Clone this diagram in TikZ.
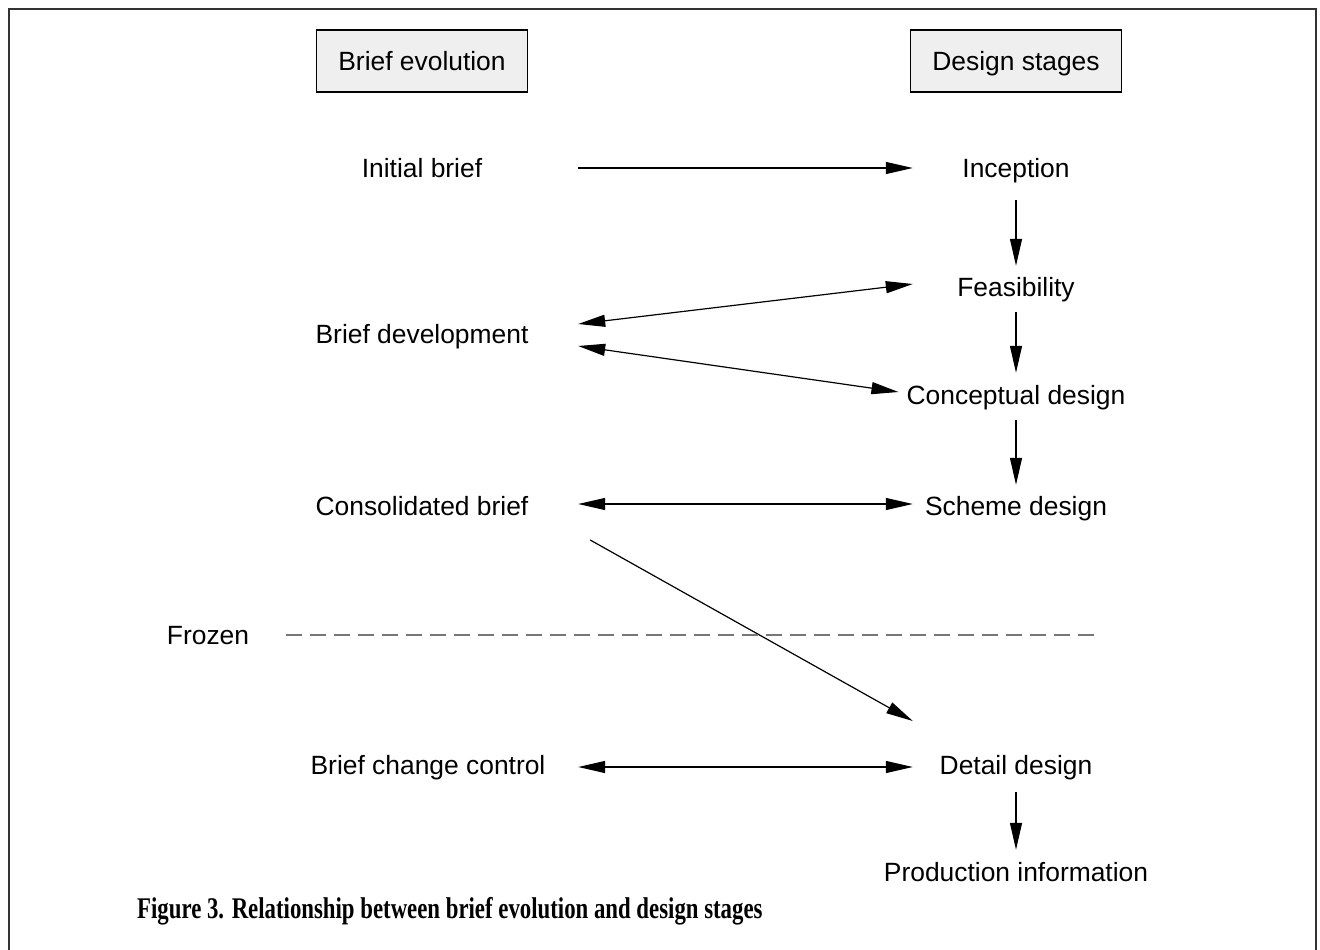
\documentclass[tikz,border=0pt]{standalone}
\usepackage{fontspec}
\setmainfont{Liberation Sans}
\newfontfamily\capfont{Liberation Serif}
\usetikzlibrary{arrows.meta, positioning, calc}
\definecolor{headfill}{HTML}{EFEFEF}
\definecolor{frameline}{HTML}{333333}
\definecolor{dashgray}{HTML}{777777}

\begin{document}
\begin{tikzpicture}[
  x=1pt, y=-1pt,
  >={Triangle[length=27pt, width=12pt]},
  headbox/.style={
    draw=black, line width=1.5pt, fill=headfill,
    minimum width=211pt, minimum height=62pt, inner sep=0pt,
    text height=19pt, text depth=0pt, font=\fontsize{26.4}{30}\selectfont
  },
  briefnode/.style={
    minimum width=312pt, minimum height=44pt, inner sep=0pt,
    text height=19pt, text depth=0pt, font=\fontsize{26.4}{30}\selectfont
  },
  stagenode/.style={
    minimum width=206pt, minimum height=44pt, inner sep=0pt,
    text height=19pt, text depth=0pt, font=\fontsize{26.4}{30}\selectfont
  },
  arr/.style={->, line width=1.2pt},
  dblarr/.style={<->, line width=1.2pt},
]

\useasboundingbox (0,0) rectangle (1320,950);

% Frame
\draw[frameline, line width=1.5pt] (9,950) -- (9,9) -- (1316,9) -- (1316,950);

% Column headers
\node[headbox] (briefhead) at (422,61) {Brief evolution};
\node[headbox] (stagehead) at (1016,61) {Design stages};

% =============================================
% Brief evolution column
% =============================================
\node[briefnode] (initial) at (422,168) {Initial brief};
\node[briefnode] (develop) at (422,334) {Brief development};
\node[briefnode] (consol)  at (422,506) {Consolidated brief};
\node[briefnode] (change)  at (428,765) {Brief change control};

% =============================================
% Design stages column
% =============================================
\node[stagenode] (inception) at (1016,168) {Inception};
\node[stagenode] (feasible)  at (1016,287) {Feasibility};
\node[stagenode] (concept)   at (1016,395) {Conceptual design};
\node[stagenode] (scheme)    at (1016,506) {Scheme design};
\node[stagenode] (detail)    at (1016,765) {Detail design};
\node[stagenode] (product)   at (1016,872) {Production information};

% Stage sequence
\draw[arr] ([yshift=-10pt]inception.south) -- ([yshift=-1pt]feasible.north);
\draw[arr] ([yshift=-3pt]feasible.south) -- (concept.north);
\draw[arr] ([yshift=-3pt]concept.south) -- ([yshift=-1pt]scheme.north);
\draw[arr] ([yshift=-5pt]detail.south) -- (product.north);

% Brief to stage links
\draw[arr] (initial.east) -- (inception.west);
\draw[dblarr] ([yshift=10pt]develop.east) -- ([yshift=3pt]feasible.west);
\draw[dblarr] ([yshift=-12pt]develop.east) -- ([xshift=-8pt,yshift=3pt]concept.west);
\draw[dblarr] ([yshift=2pt]consol.east) -- ([yshift=2pt]scheme.west);
\draw[arr] ([xshift=12pt,yshift=-34pt]consol.east) -- ([yshift=44pt]detail.west);
\draw[dblarr] ([xshift=-6pt,yshift=-2pt]change.east) -- ([yshift=-2pt]detail.west);

% Frozen line
\node[font=\fontsize{26.4}{30}\selectfont, inner sep=0pt] (frozen) at (208,636) {Frozen};
\coordinate (frozenend) at (1100,635);
\draw[dashgray, line width=1.2pt, dash pattern=on 16pt off 8pt]
  ([xshift=37pt]frozen.east |- frozenend) -- (frozenend);

% Caption
\node[anchor=west, inner sep=0pt, font=\capfont\bfseries\fontsize{30}{34}\selectfont]
  (caption) at (137,911)
  {\scalebox{0.76}[1]{Figure 3. Relationship between brief evolution and design stages}};

\end{tikzpicture}
\end{document}
